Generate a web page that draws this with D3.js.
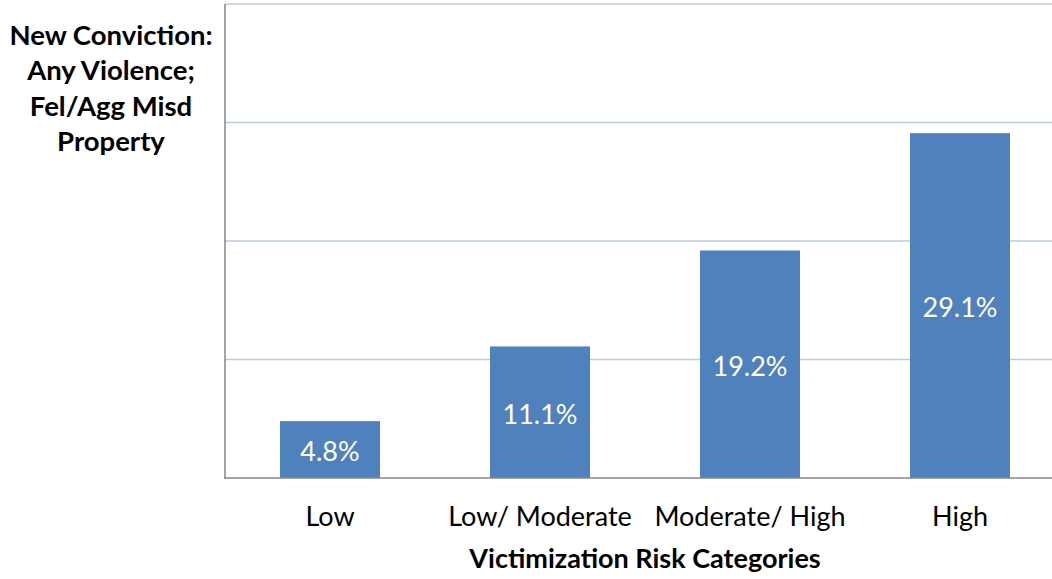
<!DOCTYPE html>
<html><head><meta charset="utf-8">
<script src="https://cdn.jsdelivr.net/npm/d3@7"></script>
<style>body{margin:0;background:#fff;} svg{display:block;} text{font-family:Lato,"Open Sans",sans-serif;}</style>
</head><body>
<svg id="c" width="1052" height="579"></svg>
<script>
const categories = ["Low", "Low/ Moderate", "Moderate/ High", "High"];
const values = [4.8, 11.1, 19.2, 29.1];
const yTicks = [0, 10, 20, 30, 40];
const yTitleLines = ["New Conviction:", "Any Violence;", "Fel/Agg Misd", "Property"];
const xTitle = "Victimization Risk Categories";

(function () {
const svg = d3.select("#c");
const mLeft = 225, mRight = 1065, mTop = 4, mBottom = 478;
const x = d3.scaleBand().domain(categories).range([mLeft, mRight]).paddingInner(0.524).paddingOuter(0.262);
const y = d3.scaleLinear().domain([0, 40]).range([mBottom, mTop]);

// gridlines
svg.append("g").selectAll("line").data(yTicks.filter(d => d > 0)).join("line")
  .attr("x1", mLeft).attr("x2", mRight).attr("y1", d => y(d)).attr("y2", d => y(d))
  .attr("stroke", "#b9cde5").attr("stroke-width", 1.5);

// bars
svg.append("g").selectAll("rect").data(values).join("rect")
  .attr("x", (d, i) => x(categories[i])).attr("width", x.bandwidth())
  .attr("y", d => y(d)).attr("height", d => y(0) - y(d))
  .attr("fill", "#4f81bd");

// axes lines
svg.append("line").attr("x1", mLeft).attr("x2", mLeft).attr("y1", mTop).attr("y2", mBottom)
  .attr("stroke", "#868686").attr("stroke-width", 1.5);
svg.append("line").attr("x1", mLeft - 1).attr("x2", mRight).attr("y1", mBottom).attr("y2", mBottom)
  .attr("stroke", "#868686").attr("stroke-width", 1.5);

// x axis labels
const xAxis = d3.axisBottom(x).tickSize(0).tickPadding(0);
const gx = svg.append("g").attr("transform", `translate(0,${mBottom})`).call(xAxis);
gx.select(".domain").remove();
gx.selectAll("text").attr("font-family", "Lato, 'Open Sans', sans-serif").attr("font-size", 27)
  .attr("fill", "#000").attr("dy", null).attr("y", 41).attr("dominant-baseline", "middle");

// data labels
svg.append("g").selectAll("text").data(values).join("text")
  .attr("x", (d, i) => x(categories[i]) + x.bandwidth() / 2)
  .attr("y", d => (y(d) + y(0)) / 2 + 5)
  .attr("text-anchor", "middle").attr("dominant-baseline", "middle")
  .attr("font-size", 27).attr("fill", "#fff")
  .text(d => d.toFixed(1) + "%");

// x title
svg.append("text").attr("x", 645).attr("y", 561).attr("text-anchor", "middle")
  .attr("dominant-baseline", "middle").attr("font-size", 27).attr("font-weight", "bold")
  .text(xTitle);

// y title
svg.append("g").selectAll("text").data(yTitleLines).join("text")
  .attr("x", 111).attr("y", (d, i) => 38 + i * 35.3)
  .attr("text-anchor", "middle").attr("dominant-baseline", "middle")
  .attr("font-size", 27.5).attr("font-weight", "bold").text(d => d);
})();
</script>
</body></html>
